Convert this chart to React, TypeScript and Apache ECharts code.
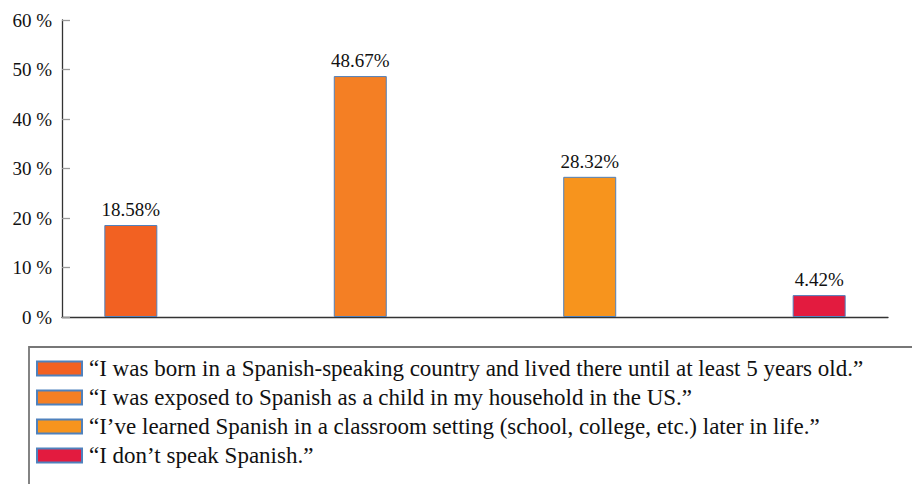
import React, { useEffect, useRef } from "react";
import * as echarts from "echarts";

const categories = [
  "\u201CI was born in a Spanish-speaking country and lived there until at least 5 years old.\u201D",
  "\u201CI was exposed to Spanish as a child in my household in the US.\u201D",
  "\u201CI\u2019ve learned Spanish in a classroom setting (school, college, etc.) later in life.\u201D",
  "\u201CI don\u2019t speak Spanish.\u201D",
];
const values = [18.58, 48.67, 28.32, 4.42];
const colors = ["#F26122", "#F47F24", "#F7941D", "#E31B3F"];
const yTicks = [0, 10, 20, 30, 40, 50, 60];

const FONT = "Liberation Serif";

export default function App() {
  const ref = useRef<HTMLDivElement>(null);
  useEffect(() => {
    if (!ref.current) return;
    const chart = echarts.init(ref.current, null, { renderer: "svg" });
    chart.setOption({
      animation: false,
      backgroundColor: "#ffffff",
      textStyle: { fontFamily: FONT },
      grid: { left: 62, right: 24, top: 20, bottom: 167, containLabel: false },
      xAxis: {
        type: "value",
        min: -0.3,
        max: 3.3,
        axisLine: { show: true, onZero: false, lineStyle: { color: "#333333", width: 1.3 } },
        axisTick: { show: false },
        axisLabel: { show: false },
        splitLine: { show: false },
      },
      yAxis: {
        type: "value",
        min: yTicks[0],
        max: yTicks[yTicks.length - 1],
        interval: 10,
        axisLine: { show: true, onZero: false, lineStyle: { color: "#333333", width: 1.3 } },
        axisTick: { show: true, inside: true, length: 8, lineStyle: { color: "#999999", width: 1.3 } },
        axisLabel: {
          formatter: "{value} %",
          color: "#111111",
          fontSize: 19,
          fontFamily: FONT,
          margin: 10,
        },
        splitLine: { show: false },
      },
      legend: {
        orient: "vertical",
        left: 31,
        top: 352,
        itemWidth: 45,
        itemHeight: 14,
        itemGap: 6,
        icon: "rect",
        textStyle: { fontSize: 23, color: "#111111", fontFamily: FONT, padding: [0, 0, 0, 2] },
        data: categories,
      },
      graphic: [
        {
          type: "rect",
          shape: { x: 29, y: 347, width: 1000, height: 300 },
          style: { fill: "none", stroke: "#777777", lineWidth: 1.8 },
          silent: true,
          z: -1,
        },
      ],
      series: categories.map((name, i) => ({
        name,
        type: "bar",
        barWidth: 53,
        barGap: "-100%",
        data: [[i, values[i]]],
        itemStyle: { color: colors[i], borderColor: "#4F81BD", borderWidth: 1 },
        label: {
          show: true,
          position: "top",
          distance: 6,
          fontSize: 19,
          color: "#111111",
          fontFamily: FONT,
          formatter: (p: any) => `${p.value[1].toFixed(2)}%`,
        },
      })),
    });
    return () => chart.dispose();
  }, []);
  return (
    <div
      ref={ref}
      style={{ position: "absolute", left: 0, top: 0, width: 912, height: 484 }}
    />
  );
}
